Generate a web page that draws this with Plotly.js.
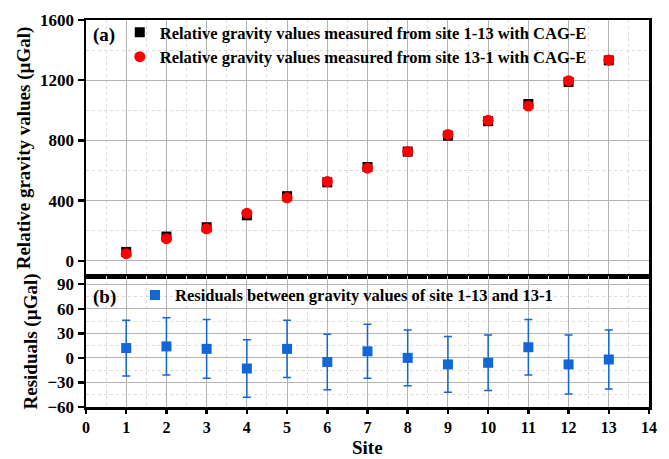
<!DOCTYPE html>
<html>
<head>
<meta charset="utf-8">
<script src="https://cdn.plot.ly/plotly-3.0.1.min.js"></script>
<style>html,body{margin:0;padding:0;background:#fff;}#chart{width:669px;height:459px;}</style>
</head>
<body>
<div id="chart"></div>
<script>
const sites = [1, 2, 3, 4, 5, 6, 7, 8, 9, 10, 11, 12, 13];
const forward = [60, 162, 224, 303, 430, 522, 624, 726, 832, 928, 1042, 1189, 1332];
const backward = [48, 148, 213, 316, 419, 527, 616, 726, 840, 934, 1029, 1197, 1334];
const residuals = [12, 14, 11, -13, 11, -5, 8, 0, -8, -6, 13, -8, -2];
const residualErr = [34, 35, 36, 35, 35, 34, 33, 34, 34, 34, 34, 36, 36];
const xTicks = [0, 1, 2, 3, 4, 5, 6, 7, 8, 9, 10, 11, 12, 13, 14];
const topTicks = [0, 400, 800, 1200, 1600];
const bottomTicks = [-60, -30, 0, 30, 60, 90];

const FONT = 'Liberation Serif, Times New Roman, serif';
const blue = '#1266d6';

const traces = [
  {x: sites, y: forward, type: 'scatter', mode: 'markers', xaxis: 'x', yaxis: 'y',
   name: 'Relative gravity values measured from site 1-13 with CAG-E',
   marker: {symbol: 'square', size: 10, color: '#000'}, legend: 'legend'},
  {x: sites, y: backward, type: 'scatter', mode: 'markers', xaxis: 'x', yaxis: 'y',
   name: 'Relative gravity values measured from site 13-1 with CAG-E',
   marker: {symbol: 'circle', size: 11, color: '#ff0000'}, legend: 'legend'},
  {x: sites, y: residuals, type: 'scatter', mode: 'markers', xaxis: 'x2', yaxis: 'y2',
   name: 'Residuals between gravity values of site 1-13 and 13-1',
   marker: {symbol: 'square', size: 10, color: blue},
   error_y: {type: 'data', array: residualErr, visible: true, color: blue, thickness: 1.5, width: 4},
   legend: 'legend2'}
];

const gridMajor = '#b4b4b4';
const gridMinor = '#dcdcdc';
const axisCommon = {
  showline: true, linecolor: '#000', linewidth: 2.5, mirror: true,
  showgrid: true, gridcolor: gridMajor, gridwidth: 1,
  zeroline: false, ticks: 'outside', ticklen: 6, tickwidth: 2.5, tickcolor: '#000',
  tickfont: {family: FONT, size: 17, color: '#000', weight: 'bold'}
};

const layout = {
  width: 669, height: 459,
  margin: {l: 86, r: 20, t: 20, b: 52},
  paper_bgcolor: '#fff', plot_bgcolor: '#fff',
  font: {family: FONT, color: '#000', weight: 'bold'},
  xaxis: Object.assign({}, axisCommon, {
    domain: [0, 1], range: [0, 14], tickvals: xTicks, showticklabels: false, ticks: '',
    anchor: 'y',
    minor: {dtick: 0.5, showgrid: true, gridcolor: gridMinor, griddash: 'dot', gridwidth: 1}
  }),
  yaxis: Object.assign({}, axisCommon, {
    domain: [0.3385, 1], range: [-100, 1600], tickvals: topTicks, anchor: 'x',
    minor: {dtick: 200, showgrid: true, gridcolor: gridMinor, griddash: 'dot', gridwidth: 1},
    title: {text: 'Relative gravity values (µGal)', font: {family: FONT, size: 19, weight: 'bold'}, standoff: 5}
  }),
  xaxis2: Object.assign({}, axisCommon, {
    domain: [0, 1], range: [0, 14], tickvals: xTicks, anchor: 'y2', ticklen: 4,
    tickfont: {family: FONT, size: 16, color: '#000', weight: 'bold'},
    minor: {dtick: 0.5, showgrid: true, gridcolor: gridMinor, griddash: 'dot', gridwidth: 1}
  }),
  yaxis2: Object.assign({}, axisCommon, {
    domain: [0, 0.3385], range: [-60, 100], tickvals: bottomTicks, anchor: 'x2',
    minor: {dtick: 15, showgrid: true, gridcolor: gridMinor, griddash: 'dot', gridwidth: 1},
    title: {text: 'Residuals (µGal)', font: {family: FONT, size: 19, weight: 'bold'}, standoff: 5}
  }),
  legend: {
    x: 0.06, y: 1.013, xanchor: 'left', yanchor: 'top', bgcolor: 'rgba(0,0,0,0)',
    font: {family: FONT, size: 16.5, color: '#000', weight: 'bold'}, tracegroupgap: 0
  },
  legend2: {
    x: 0.087, y: 0.334, xanchor: 'left', yanchor: 'top', bgcolor: 'rgba(0,0,0,0)',
    font: {family: FONT, size: 16.5, color: '#000', weight: 'bold'}
  },
  showlegend: true,
  annotations: [
    {text: '(a)', xref: 'paper', yref: 'paper', x: 0.008, y: 0.995, xanchor: 'left', yanchor: 'top',
     showarrow: false, font: {family: FONT, size: 19, color: '#000', weight: 'bold'}},
    {text: '(b)', xref: 'paper', yref: 'paper', x: 0.008, y: 0.318, xanchor: 'left', yanchor: 'top',
     showarrow: false, font: {family: FONT, size: 19, color: '#000', weight: 'bold'}},
    {text: 'Site', xref: 'paper', yref: 'paper', x: 0.5, y: -0.1344, xanchor: 'center', yanchor: 'bottom',
     borderpad: 0, showarrow: false, font: {family: FONT, size: 19, color: '#000', weight: 'bold'}}
  ]
};

Plotly.newPlot('chart', traces, layout, {displayModeBar: false, staticPlot: true});
</script>
</body>
</html>
